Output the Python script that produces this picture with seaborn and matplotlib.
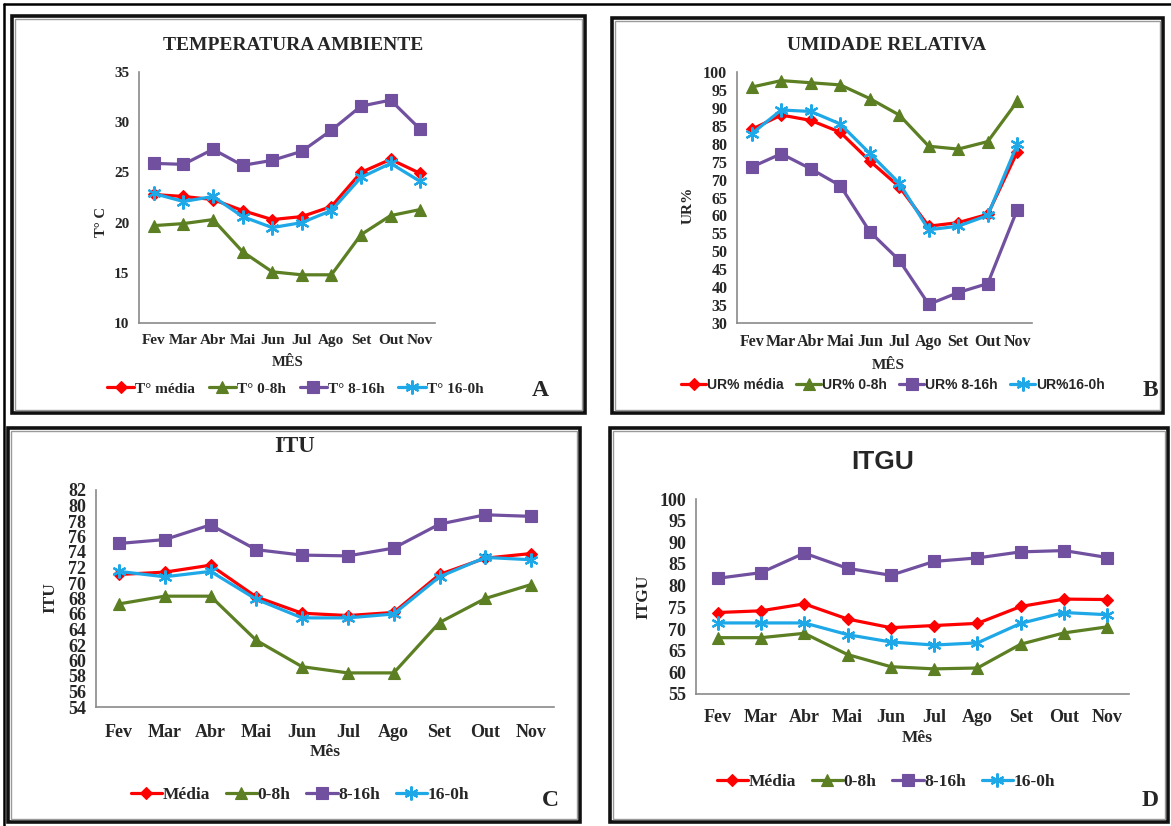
import matplotlib
matplotlib.use("Agg")
import matplotlib.pyplot as plt
from matplotlib.patches import Rectangle
from matplotlib.lines import Line2D
import seaborn as sns

# Data
MESES = ["Fev", "Mar", "Abr", "Mai", "Jun", "Jul", "Ago", "Set", "Out", "Nov"]

T_MEDIA = [22.8, 22.6, 22.3, 21.2, 20.3, 20.6, 21.6, 25.0, 26.3, 24.9]
T_0_8 = [19.7, 19.9, 20.3, 17.1, 15.1, 14.8, 14.8, 18.8, 20.7, 21.3]
T_8_16 = [25.9, 25.8, 27.3, 25.7, 26.2, 27.1, 29.2, 31.6, 32.2, 29.3]
T_16_0 = [22.9, 22.1, 22.6, 20.6, 19.5, 20.0, 21.2, 24.5, 25.9, 24.1]

UR_MEDIA = [84.0, 88.0, 86.5, 83.2, 75.2, 68.0, 57.0, 58.0, 60.3, 77.7]
UR_0_8 = [95.8, 97.6, 97.0, 96.4, 92.6, 88.0, 79.3, 78.5, 80.6, 91.8]
UR_8_16 = [73.5, 77.2, 73.0, 68.3, 55.5, 47.5, 35.2, 38.5, 41.0, 61.6]
UR_16_0 = [82.8, 89.4, 89.0, 85.5, 77.3, 69.0, 56.0, 57.0, 60.0, 79.8]

ITU_MEDIA = [71.1, 71.4, 72.3, 68.2, 66.1, 65.8, 66.2, 71.1, 73.2, 73.8]
ITU_0_8 = [67.3, 68.3, 68.3, 62.6, 59.2, 58.4, 58.4, 64.9, 68.0, 69.8]
ITU_8_16 = [75.1, 75.6, 77.5, 74.3, 73.6, 73.5, 74.5, 77.6, 78.8, 78.6]
ITU_16_0 = [71.5, 70.8, 71.5, 67.9, 65.5, 65.5, 66.0, 70.8, 73.3, 73.0]

ITGU_MEDIA = [73.8, 74.2, 75.8, 72.3, 70.3, 70.8, 71.3, 75.2, 76.9, 76.8]
ITGU_0_8 = [68.0, 68.0, 69.0, 64.1, 61.3, 60.8, 61.0, 66.5, 69.1, 70.5]
ITGU_8_16 = [81.7, 83.0, 87.5, 84.0, 82.4, 85.6, 86.4, 87.8, 88.1, 86.5]
ITGU_16_0 = [71.4, 71.4, 71.4, 68.7, 67.0, 66.3, 66.8, 71.3, 73.8, 73.3]

# Series styles: colour, marker, marker size
RED = "#ff0000"
GREEN = "#5b7f22"
PURPLE = "#7150a0"
BLUE = "#1ea8e8"
AXIS_GRAY = "#8a8a8a"
STYLES = [
    (RED, "D", 6),
    (GREEN, "^", 8),
    (PURPLE, "s", 8),
    (BLUE, (6, 2, 0), 10),
]

SERIF = ["Liberation Serif", "DejaVu Serif"]
SANS = ["Liberation Sans", "DejaVu Sans"]

W, H = 1171, 826


def fx(px):
    return px / W


def fy(py):
    return 1 - py / H


PANELS = [
    dict(series=[T_MEDIA, T_0_8, T_8_16, T_16_0],
         labels=["T° média", "T° 0-8h", "T° 8-16h", "T° 16-0h"],
         axes_px=(139, 72, 435, 323), ylim=(10, 35), ystep=5,
         frame_px=(12, 16, 585, 413),
         title="TEMPERATURA AMBIENTE", title_xy=(293, 45), title_font=(SERIF, 14),
         ylabel="T° C", ylabel_xy=(101, 222), xlabel="MÊS", xlabel_xy=(288, 363),
         tick_size=11, label_size=10.5, xpad=8,
         legend_xy=(295, 389), legend_font=(SERIF, 11),
         letter="A", letter_xy=(540, 391)),
    dict(series=[UR_MEDIA, UR_0_8, UR_8_16, UR_16_0],
         labels=["UR% média", "UR% 0-8h", "UR% 8-16h", "UR%16-0h"],
         axes_px=(737, 72, 1032, 323), ylim=(30, 100), ystep=5,
         frame_px=(612, 18, 1163, 413),
         title="UMIDADE RELATIVA", title_xy=(887, 46), title_font=(SERIF, 14),
         ylabel="UR%", ylabel_xy=(688, 205), xlabel="MÊS", xlabel_xy=(888, 365),
         tick_size=11.5, label_size=11, xpad=8,
         legend_xy=(893, 385), legend_font=(SANS, 10),
         letter="B", letter_xy=(1150, 391)),
    dict(series=[ITU_MEDIA, ITU_0_8, ITU_8_16, ITU_16_0],
         labels=["Média", "0-8h", "8-16h", "16-0h"],
         axes_px=(96, 490, 554, 707), ylim=(54, 82), ystep=2,
         frame_px=(8, 428, 580, 822),
         title="ITU", title_xy=(295, 447), title_font=(SERIF, 16.5),
         ylabel="ITU", ylabel_xy=(50, 598), xlabel="Mês", xlabel_xy=(325, 752),
         tick_size=13, label_size=12.5, xpad=12,
         legend_xy=(300, 795), legend_font=(SERIF, 12.5),
         letter="C", letter_xy=(550, 801)),
    dict(series=[ITGU_MEDIA, ITGU_0_8, ITGU_8_16, ITGU_16_0],
         labels=["Média", "0-8h", "8-16h", "16-0h"],
         axes_px=(696, 499, 1129, 694), ylim=(55, 100), ystep=5,
         frame_px=(610, 428, 1168, 822),
         title="ITGU", title_xy=(883, 462), title_font=(SANS, 19),
         ylabel="ITGU", ylabel_xy=(643, 597), xlabel="Mês", xlabel_xy=(917, 738),
         tick_size=13, label_size=12.5, xpad=11,
         legend_xy=(886, 782), legend_font=(SERIF, 12.5),
         letter="D", letter_xy=(1150, 801)),
]


def _frame(fig, frame_px):
    x0, y0, x1, y1 = frame_px
    fig.add_artist(Rectangle((fx(x0), fy(y1)), fx(x1 - x0), (y1 - y0) / H,
                             transform=fig.transFigure, fill=False,
                             edgecolor="#111111", linewidth=2.6, zorder=0))
    # thin gray inner shadow, Excel chart-area look
    fig.add_artist(Rectangle((fx(x0 + 3), fy(y1 - 3)), fx(x1 - x0 - 6), (y1 - y0 - 6) / H,
                             transform=fig.transFigure, fill=False,
                             edgecolor="#9a9a9a", linewidth=1.0, zorder=0))


def _panel(fig, p):
    x0, y0, x1, y1 = p["axes_px"]
    ax = fig.add_axes([fx(x0), fy(y1), fx(x1 - x0), (y1 - y0) / H])
    ax.set_facecolor("none")

    for vals, lab, (color, marker, ms) in zip(p["series"], p["labels"], STYLES):
        sns.lineplot(x=MESES, y=vals, ax=ax, color=color, marker=marker,
                     markersize=ms, markeredgecolor=color,
                     markeredgewidth=1.6 if marker == (6, 2, 0) else 0.8,
                     linewidth=2.3, label=lab, sort=False)

    lo, hi = p["ylim"]
    ax.set_ylim(lo, hi)
    ax.set_yticks(range(lo, hi + 1, p["ystep"]))
    ax.set_xlim(-0.5, len(MESES) - 0.5)
    ax.set_xticks(range(len(MESES)))
    ax.set_xticklabels(MESES)
    ax.set_xticks([i - 0.5 for i in range(len(MESES) + 1)], minor=True)
    ax.tick_params(axis="x", which="major", length=0, pad=p["xpad"])
    ax.tick_params(axis="x", which="minor", length=4, color=AXIS_GRAY, direction="out")
    ax.tick_params(axis="y", length=4, color=AXIS_GRAY, direction="out", pad=3)
    for lab in ax.get_xticklabels() + ax.get_yticklabels():
        lab.set_fontsize(p["tick_size"])
        lab.set_fontweight("bold")
        lab.set_family(SERIF)
    for side in ("top", "right"):
        ax.spines[side].set_visible(False)
    for side in ("left", "bottom"):
        ax.spines[side].set_color(AXIS_GRAY)
        ax.spines[side].set_linewidth(1.2)
    ax.set_xlabel("")
    ax.set_ylabel("")
    ax.get_legend().remove()

    fam, size = p["title_font"]
    fig.text(fx(p["title_xy"][0]), fy(p["title_xy"][1]), p["title"],
             ha="center", va="center", fontsize=size, fontweight="bold", family=fam)
    fig.text(fx(p["ylabel_xy"][0]), fy(p["ylabel_xy"][1]), p["ylabel"], rotation=90,
             ha="center", va="center", fontsize=p["label_size"], fontweight="bold",
             family=SERIF)
    fig.text(fx(p["xlabel_xy"][0]), fy(p["xlabel_xy"][1]), p["xlabel"],
             ha="center", va="center", fontsize=p["label_size"], fontweight="bold",
             family=SERIF)

    fam, size = p["legend_font"]
    handles, labels = ax.get_legend_handles_labels()
    fig.legend(handles, labels, loc="center",
               bbox_to_anchor=(fx(p["legend_xy"][0]), fy(p["legend_xy"][1])),
               ncol=4, frameon=False, handlelength=1.8, handletextpad=0.05,
               columnspacing=0.9, prop=dict(family=fam, size=size, weight="bold"))

    fig.text(fx(p["letter_xy"][0]), fy(p["letter_xy"][1]), p["letter"],
             ha="center", va="center", fontsize=17, fontweight="bold", family=SERIF)
    _frame(fig, p["frame_px"])


sns.set_theme(style="white")
plt.rcParams["font.family"] = SERIF

fig = plt.figure(figsize=(W / 100, H / 100), dpi=100)
fig.patch.set_facecolor("white")

# outer page lines at top and left
fig.add_artist(Line2D([fx(4), 1], [fy(4), fy(4)], transform=fig.transFigure,
                      color="black", linewidth=1.8))
fig.add_artist(Line2D([fx(4), fx(4)], [fy(4), 0], transform=fig.transFigure,
                      color="black", linewidth=1.8))

for panel in PANELS:
    _panel(fig, panel)

fig.savefig("out.png", dpi=100)
plt.close(fig)
